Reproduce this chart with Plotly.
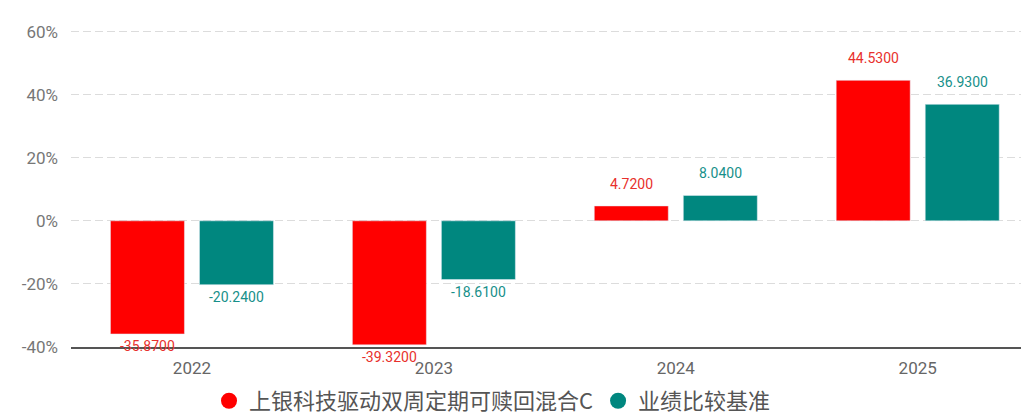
import plotly.graph_objects as go

years = ["2022", "2023", "2024", "2025"]
fund_name = "上银科技驱动双周定期可赎回混合C"
bench_name = "业绩比较基准"
fund_values = [-35.87, -39.32, 4.72, 44.53]
bench_values = [-20.24, -18.61, 8.04, 36.93]
y_ticks = [-40, -20, 0, 20, 40, 60]

RED = "#ff0000"
TEAL = "#00877f"
RED_TXT = "#e8302c"
TEAL_TXT = "#17908a"

fig = go.Figure()
fig.add_trace(go.Bar(x=years, y=fund_values, marker_color=RED, showlegend=False, name=fund_name))
fig.add_trace(go.Bar(x=years, y=bench_values, marker_color=TEAL, showlegend=False, name=bench_name))

# legend entries with circle markers
fig.add_trace(go.Scatter(x=[None], y=[None], mode="markers", name=fund_name,
                         marker=dict(color=RED, size=18, symbol="circle")))
fig.add_trace(go.Scatter(x=[None], y=[None], mode="markers", name=bench_name,
                         marker=dict(color=TEAL, size=18, symbol="circle")))

annotations = []
for vals, off, col in [(fund_values, -44.5, RED_TXT), (bench_values, 44.5, TEAL_TXT)]:
    for i, v in enumerate(vals):
        annotations.append(dict(
            x=i, y=v, xref="x", yref="y", text=f"{v:.4f}",
            showarrow=False, xshift=off, yshift=22 if v > 0 else -12,
            font=dict(size=14, color=col, family="Roboto, Noto Sans"),
            yanchor="middle", xanchor="center",
        ))

# page has 8px body margin, so the figure is shifted by 8px right/down
fig.update_layout(
    width=1021, height=407,
    margin=dict(l=63, r=0, t=22, b=68, autoexpand=False),
    paper_bgcolor="white", plot_bgcolor="white",
    barmode="group", bargap=0.264, bargroupgap=0.169,
    font=dict(family="Noto Sans CJK SC, Noto Sans", color="#666666"),
    showlegend=True,
    legend=dict(orientation="h", x=0.44, xanchor="center", y=-0.104, yanchor="top",
                font=dict(size=22, color="#555555", family="Noto Sans CJK SC"),
                itemwidth=30, traceorder="normal"),
    annotations=annotations,
)
fig.update_xaxes(type="category", range=[-0.5, 3.46], showgrid=False, showline=True,
                 linecolor="#555555", linewidth=2, ticks="", ticklabelstandoff=5,
                 tickfont=dict(size=17, color="#666666", family="Roboto"))
fig.update_yaxes(range=[-40, 60.5], tickvals=y_ticks, ticktext=[f"{t}%" for t in y_ticks],
                 showgrid=True, gridcolor="#dcdcdc", griddash="8px,4px", gridwidth=1,
                 zeroline=False, showline=False, ticks="", ticklabelstandoff=12,
                 tickfont=dict(size=17, color="#777777", family="Roboto"))

fig.write_html("out.html")
